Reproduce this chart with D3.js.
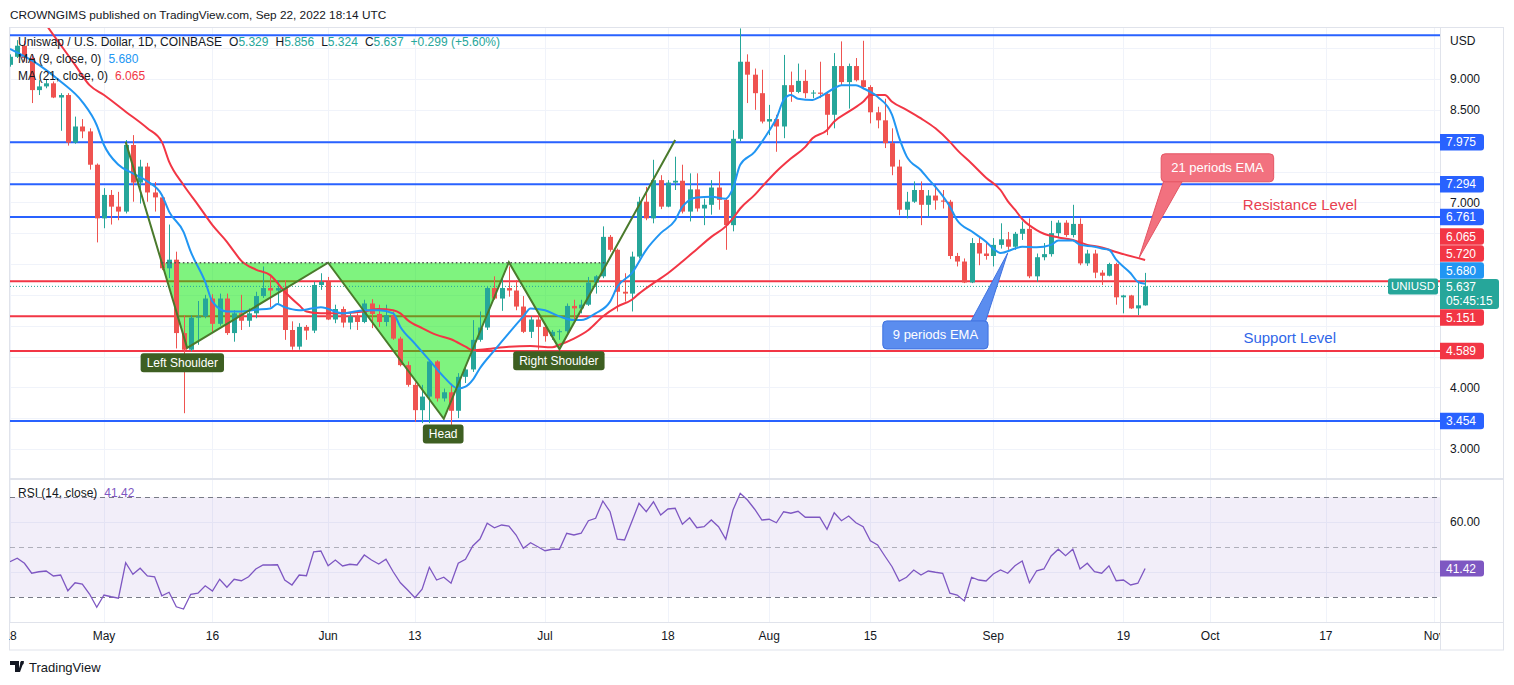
<!DOCTYPE html>
<html><head><meta charset="utf-8">
<script src="https://cdn.jsdelivr.net/npm/d3@7"></script>
<style>
html,body{margin:0;padding:0;background:#fff;}
svg{display:block;font-family:"Liberation Sans",Arial,sans-serif;}
text{white-space:pre;}
</style></head><body><svg id="c" width="1514" height="685"></svg>
<script>
// ---------- DATA ----------
const startDate = "2022-04-18";  // first daily candle
const opens  = [9.23,9.36,9.54,9.34,8.82,8.88,8.93,8.70,8.74,7.97,8.23,8.15,7.61,6.74,7.12,6.93,6.85,7.93,7.32,7.58,7.16,7.08,5.93,6.07,4.88,4.61,5.13,5.15,5.44,5.03,5.44,4.88,5.20,5.08,5.20,5.48,5.61,5.57,5.61,4.93,4.66,4.98,4.92,5.66,5.71,5.10,5.27,5.05,5.15,5.06,5.36,5.19,5.06,5.17,4.79,4.36,4.04,3.63,3.85,4.42,3.82,3.92,3.62,4.17,4.29,4.77,4.97,5.61,5.44,5.61,5.57,5.31,4.90,5.10,4.98,4.83,4.90,4.91,5.32,5.28,5.34,5.70,5.80,6.44,6.23,5.55,5.52,6.12,7.01,6.74,7.36,6.93,7.32,7.35,6.85,7.21,6.90,6.96,7.24,7.04,6.63,8.03,9.28,9.07,8.77,8.31,8.35,8.23,8.90,8.79,8.97,8.77,8.78,8.76,8.42,9.21,8.95,9.21,8.98,8.87,8.46,8.33,7.96,7.58,6.88,7.01,7.20,6.96,7.11,7.03,7.01,6.13,6.04,5.70,6.34,6.17,6.13,6.31,6.40,6.28,6.49,6.57,5.80,6.11,6.16,6.50,6.67,6.47,6.65,6.01,6.17,5.86,5.81,6.00,5.46,5.49,5.28,5.329];
const highs  = [9.40,9.63,9.62,9.40,8.98,9.00,8.96,8.77,8.77,8.39,8.35,8.20,7.63,7.23,7.20,7.17,8.01,8.09,7.69,7.64,7.33,7.12,6.64,6.20,5.17,5.17,5.40,5.50,5.51,5.52,5.52,5.25,5.50,5.28,5.55,5.96,5.80,5.74,5.74,5.07,5.04,5.01,5.71,5.85,5.79,5.34,5.31,5.20,5.20,5.42,5.43,5.34,5.34,5.23,4.82,4.42,4.08,4.04,4.44,4.44,3.98,4.06,4.23,4.36,5.09,5.23,5.63,5.80,5.77,5.96,5.74,5.48,5.15,5.15,5.04,4.93,4.94,5.36,5.42,5.42,5.79,5.82,6.61,6.47,6.25,5.85,6.20,7.09,7.25,7.69,7.44,7.36,7.74,7.61,7.47,7.47,7.06,7.36,7.50,7.06,8.17,9.82,9.40,9.17,9.15,8.58,8.42,9.39,9.12,9.25,9.15,8.82,9.28,8.79,9.42,9.61,9.25,9.34,9.62,8.90,8.55,8.68,8.20,7.69,7.17,7.34,7.34,7.20,7.28,7.20,7.04,6.18,6.09,6.42,6.44,6.36,6.42,6.66,6.52,6.52,6.69,6.74,6.17,6.34,6.70,6.71,6.71,6.96,6.74,6.23,6.23,5.90,6.02,6.02,5.50,5.50,5.71,5.856];
const lows   = [9.20,9.34,9.28,8.61,8.74,8.85,8.69,8.16,7.92,7.95,8.04,7.53,6.35,6.58,6.64,6.71,6.82,7.01,6.98,7.01,6.85,5.90,5.77,4.63,3.58,4.58,4.69,5.12,4.90,5.00,4.85,4.74,4.93,4.98,5.12,5.45,5.30,5.36,4.77,4.61,4.61,4.77,4.88,5.58,5.09,5.04,4.97,4.94,4.93,5.04,4.96,4.98,4.99,4.77,4.34,4.01,3.44,3.42,3.42,3.77,3.77,3.36,3.50,4.07,4.25,4.74,4.93,5.42,5.24,5.47,5.25,4.88,4.80,4.61,4.74,4.77,4.77,4.88,5.09,5.20,5.32,5.52,5.77,6.20,5.23,5.39,5.23,6.09,6.71,6.66,6.89,6.92,7.20,6.82,6.69,6.85,6.63,6.80,6.88,6.23,6.53,7.99,8.61,8.50,8.28,8.09,7.82,8.04,8.63,8.77,8.69,8.69,8.69,8.09,8.20,8.90,8.52,8.96,8.85,8.28,8.20,7.88,7.44,6.79,6.74,6.99,6.63,6.77,6.88,6.90,6.08,5.96,5.69,5.69,5.98,6.07,5.96,6.25,6.23,6.23,6.39,5.77,5.71,6.06,6.12,6.44,6.44,6.43,5.98,5.97,5.77,5.66,5.80,5.34,5.20,5.27,5.17,5.324];
const closes = [9.36,9.54,9.34,8.82,8.88,8.93,8.70,8.74,7.97,8.23,8.15,7.61,6.74,7.12,6.93,6.85,7.93,7.32,7.58,7.16,7.08,5.93,6.07,4.88,4.61,5.13,5.15,5.44,5.03,5.44,4.88,5.20,5.08,5.20,5.48,5.61,5.57,5.61,4.93,4.66,4.98,4.92,5.66,5.71,5.10,5.27,5.05,5.15,5.06,5.36,5.19,5.06,5.17,4.79,4.36,4.04,3.63,3.85,4.42,3.82,3.92,3.62,4.17,4.29,4.77,4.97,5.61,5.44,5.61,5.57,5.31,4.90,5.10,4.98,4.83,4.90,4.91,5.32,5.28,5.34,5.70,5.80,6.44,6.23,5.55,5.52,6.12,7.01,6.74,7.36,6.93,7.32,7.35,6.85,7.21,6.90,6.96,7.24,7.04,6.63,8.03,9.28,9.07,8.77,8.31,8.35,8.23,8.90,8.79,8.97,8.77,8.78,8.76,8.42,9.21,8.95,9.21,8.98,8.87,8.46,8.33,7.96,7.58,6.88,7.01,7.20,6.96,7.11,7.03,7.01,6.13,6.04,5.70,6.34,6.17,6.13,6.31,6.40,6.28,6.49,6.57,5.80,6.11,6.16,6.50,6.67,6.47,6.65,6.01,6.17,5.86,5.81,6.00,5.46,5.49,5.28,5.33,5.637];
const rsiValues = [44.1,45.5,43.5,39.5,40.1,40.4,38.4,38.8,32.5,35.7,35.2,31.2,25.9,30.8,30.1,29.5,43.7,39.1,41.5,38.4,38.1,30.5,31.9,26.1,25.2,31.1,31.5,34.5,32.4,37.1,33.9,37.1,36.5,38.1,41.2,42.8,42.8,42.9,36.8,34.8,38.8,38.5,48.1,48.4,42.5,44.8,42.4,43.1,42.8,46.8,44.8,43.2,45.1,40.1,35.7,32.8,29.7,33.1,41.9,36.8,37.9,35.5,43.5,45.1,50.4,53.2,59.5,57.7,58.8,58.4,54.8,49.5,51.7,50.1,48.5,49.1,49.1,55.5,54.8,55.5,60.5,61.5,68.4,64.1,53.1,52.8,60.1,67.5,64.1,68.1,62.8,65.2,65.5,59.1,61.7,57.7,58.1,60.8,58.1,53.1,64.8,71.5,68.8,65.1,60.8,61.1,59.7,64.1,63.5,64.3,61.9,61.9,61.9,57.1,63.7,60.5,62.4,59.7,58.1,52.5,50.8,46.4,42.1,36.4,37.9,40.8,38.8,40.4,39.9,39.5,31.5,30.8,28.4,37.9,36.8,36.4,39.2,40.8,39.5,42.5,44.4,35.7,40.5,41.2,46.4,49.1,46.5,49.1,41.2,43.5,40.1,39.5,42.5,36.5,36.8,34.8,35.5,41.42];
const ma9Points = [["2022-04-18",9.49],["2022-04-22",9.23],["2022-04-25",8.96],["2022-04-28",8.63],["2022-04-30",8.25],["2022-05-01",7.93],["2022-05-03",7.61],["2022-05-05",7.47],["2022-05-07",7.34],["2022-05-09",7.12],["2022-05-10",6.85],["2022-05-12",6.52],["2022-05-13",6.20],["2022-05-15",5.71],["2022-05-16",5.39],["2022-05-18",5.23],["2022-05-20",5.23],["2022-05-22",5.26],["2022-05-24",5.28],["2022-05-25",5.35],["2022-05-26",5.30],["2022-05-28",5.25],["2022-05-31",5.30],["2022-06-03",5.20],["2022-06-06",5.25],["2022-06-08",5.25],["2022-06-10",5.20],["2022-06-11",4.98],["2022-06-13",4.71],["2022-06-15",4.44],["2022-06-17",4.17],["2022-06-19",3.98],["2022-06-20",4.01],["2022-06-21",4.12],["2022-06-22",4.31],["2022-06-24",4.60],["2022-06-26",4.88],["2022-06-28",5.15],["2022-06-29",5.28],["2022-07-01",5.25],["2022-07-03",5.15],["2022-07-05",5.09],["2022-07-06",5.09],["2022-07-08",5.20],["2022-07-10",5.39],["2022-07-11",5.63],["2022-07-13",5.85],["2022-07-15",6.23],["2022-07-17",6.50],["2022-07-19",6.71],["2022-07-20",6.93],["2022-07-22",7.08],["2022-07-24",7.09],["2022-07-26",7.06],["2022-07-27",7.23],["2022-07-28",7.61],["2022-07-30",7.82],["2022-07-31",7.98],["2022-08-01",8.16],["2022-08-02",8.36],["2022-08-03",8.66],["2022-08-04",8.74],["2022-08-05",8.68],["2022-08-07",8.66],["2022-08-08",8.71],["2022-08-10",8.85],["2022-08-11",8.90],["2022-08-13",8.90],["2022-08-14",8.85],["2022-08-16",8.71],["2022-08-18",8.42],["2022-08-19",8.04],["2022-08-20",7.75],["2022-08-22",7.52],["2022-08-23",7.38],["2022-08-24",7.25],["2022-08-26",6.93],["2022-08-27",6.71],["2022-08-29",6.53],["2022-08-31",6.36],["2022-09-01",6.25],["2022-09-02",6.18],["2022-09-04",6.25],["2022-09-05",6.28],["2022-09-07",6.27],["2022-09-09",6.31],["2022-09-10",6.38],["2022-09-12",6.38],["2022-09-13",6.31],["2022-09-15",6.28],["2022-09-16",6.25],["2022-09-17",6.23],["2022-09-18",6.07],["2022-09-20",5.85],["2022-09-21",5.71],["2022-09-22",5.68]];
const ma21Points = [["2022-04-18",10.75],["2022-04-23",9.88],["2022-04-27",9.23],["2022-04-29",8.90],["2022-05-01",8.74],["2022-05-04",8.47],["2022-05-07",8.20],["2022-05-09",7.98],["2022-05-10",7.66],["2022-05-12",7.28],["2022-05-14",6.96],["2022-05-16",6.63],["2022-05-18",6.36],["2022-05-19",6.20],["2022-05-20",6.05],["2022-05-22",5.91],["2022-05-24",5.82],["2022-05-26",5.55],["2022-05-28",5.33],["2022-05-29",5.23],["2022-05-31",5.20],["2022-06-02",5.20],["2022-06-04",5.21],["2022-06-06",5.23],["2022-06-08",5.27],["2022-06-10",5.25],["2022-06-11",5.20],["2022-06-12",5.09],["2022-06-14",4.96],["2022-06-16",4.85],["2022-06-18",4.78],["2022-06-20",4.66],["2022-06-21",4.60],["2022-06-23",4.62],["2022-06-26",4.66],["2022-06-29",4.67],["2022-07-02",4.65],["2022-07-03",4.69],["2022-07-05",4.79],["2022-07-07",4.93],["2022-07-09",5.15],["2022-07-11",5.31],["2022-07-13",5.42],["2022-07-14",5.52],["2022-07-16",5.69],["2022-07-18",5.85],["2022-07-20",6.04],["2022-07-22",6.24],["2022-07-24",6.44],["2022-07-26",6.61],["2022-07-27",6.74],["2022-07-28",6.90],["2022-07-30",7.12],["2022-07-31",7.25],["2022-08-02",7.50],["2022-08-04",7.71],["2022-08-06",7.90],["2022-08-07",8.04],["2022-08-09",8.17],["2022-08-10",8.31],["2022-08-12",8.47],["2022-08-14",8.63],["2022-08-15",8.74],["2022-08-17",8.74],["2022-08-18",8.63],["2022-08-20",8.50],["2022-08-22",8.36],["2022-08-24",8.20],["2022-08-26",7.98],["2022-08-27",7.85],["2022-08-29",7.63],["2022-08-31",7.40],["2022-09-02",7.20],["2022-09-03",7.02],["2022-09-04",6.88],["2022-09-05",6.73],["2022-09-07",6.55],["2022-09-08",6.49],["2022-09-10",6.43],["2022-09-12",6.39],["2022-09-14",6.31],["2022-09-16",6.27],["2022-09-17",6.23],["2022-09-19",6.16],["2022-09-22",6.065]];
const priceTicks = [3.0,3.5,4.0,4.5,5.0,5.5,6.0,6.5,7.0,7.5,8.0,8.5,9.0,9.5];
const rsiTicks = [40,60];
const dateTicks = ["2022-04-18","2022-05-01","2022-05-16","2022-06-01","2022-06-13","2022-07-01","2022-07-18","2022-08-01","2022-08-15","2022-09-01","2022-09-19","2022-10-01","2022-10-17","2022-11-01"];
const dateTickLabels = ["18","May","16","Jun","13","Jul","18","Aug","15","Sep","19","Oct","17","Nov"];
const blueLevels = [9.71,7.975,7.294,6.761,3.454];
const redLevels = [5.720,5.151,4.589];
const lastPrice = 5.637, ma9Last = 5.680, ma21Last = 6.065, rsiLast = 41.42;
const necklinePrice = 6.02;
const patternOutline = [["2022-05-04",7.98],["2022-05-09",6.02],["2022-05-12T12:00",4.64],["2022-06-01",6.02],["2022-06-17",3.49],["2022-06-26",6.03],["2022-07-03",4.62],["2022-07-19",8.01]];
const patternFill = [["2022-05-09",6.02],["2022-05-12T12:00",4.64],["2022-06-01",6.02],["2022-06-17",3.49],["2022-06-26",6.03],["2022-07-03",4.62],["2022-07-09T12:00",6.02]];
const patternLabels = [["Left Shoulder","2022-05-11T20:00",4.40],["Head","2022-06-16T22:00",3.245],["Right Shoulder","2022-07-02T22:00",4.43]];
const callouts = [
  {text:"21 periods EMA", date:"2022-10-02", price:7.56, tipDate:"2022-09-21T04:00", tipPrice:6.10, fill:"#f2717f", stroke:"#e45563", side:"bl"},
  {text:"9 periods EMA", date:"2022-08-24", price:4.85, tipDate:"2022-09-03", tipPrice:6.18, fill:"#5b8def", stroke:"#3f72e0", side:"tr"}
];
const levelTexts = [["Resistance Level","2022-10-13T10:00",6.957,"#e8404f"],["Support Level","2022-10-12",4.80,"#2f66e8"]];

// ---------- LAYOUT ----------
const L = 10, R = 1440, PT = 28, PB = 478, RT = 480, RB = 622, AB = 650;
const COL_UP = "#26a69a", COL_DN = "#ef5350", BLUE = "#2962ff", RED = "#f23645";
const FS = 12;
const pd = s => new Date(s.length === 10 ? s + "T00:00:00Z" : s + ":00Z");
const day0 = pd(startDate);
const dayOf = i => new Date(day0.getTime() + i * 86400000);

const x = d3.scaleUtc().domain([pd("2022-04-18"), pd("2022-11-01")]).range([L, L + 197 * 7.23]);
const y = d3.scaleLinear().domain([3, 9]).range([449, 79]);
const yr = d3.scaleLinear().domain([30, 70]).range([597, 497]);

const svg = d3.select("#c");
const defs = svg.append("defs");
defs.append("clipPath").attr("id", "cp").append("rect").attr("x", L).attr("y", PT).attr("width", R - L).attr("height", PB - PT);
defs.append("clipPath").attr("id", "cr").append("rect").attr("x", L).attr("y", RT).attr("width", R - L).attr("height", RB - RT);
defs.append("clipPath").attr("id", "ct").append("rect").attr("x", 9).attr("y", RB).attr("width", R - 9).attr("height", AB - RB);

// header
svg.append("text").attr("x", 10).attr("y", 19).attr("font-size", 11.8).attr("fill", "#131722")
  .text("CROWNGIMS published on TradingView.com, Sep 22, 2022 18:14 UTC");

// frame
svg.append("rect").attr("x", 9.5).attr("y", 27.5).attr("width", 1494).attr("height", AB - 27.5).attr("fill", "none").attr("stroke", "#e0e3eb");

// gridlines
const grid = svg.append("g").attr("stroke", "#f0f3fa").attr("stroke-width", 1);
dateTicks.forEach(d => {
  const xx = Math.round(x(pd(d))) + 0.5;
  grid.append("line").attr("x1", xx).attr("x2", xx).attr("y1", PT).attr("y2", RB);
});
priceTicks.forEach(v => {
  const yy = Math.round(y(v)) + 0.5;
  grid.append("line").attr("x1", L).attr("x2", R).attr("y1", yy).attr("y2", yy);
});
rsiTicks.forEach(v => {
  const yy = Math.round(yr(v)) + 0.5;
  grid.append("line").attr("x1", L).attr("x2", R).attr("y1", yy).attr("y2", yy);
});

// ---------- PRICE PANE ----------
const pane = svg.append("g").attr("clip-path", "url(#cp)");
blueLevels.forEach(v => pane.append("line").attr("x1", L).attr("x2", R).attr("y1", y(v)).attr("y2", y(v)).attr("stroke", BLUE).attr("stroke-width", 2));
redLevels.forEach(v => pane.append("line").attr("x1", L).attr("x2", R).attr("y1", y(v)).attr("y2", y(v)).attr("stroke", RED).attr("stroke-width", 2));

const pt = p => [x(pd(p[0])), y(p[1])];
pane.append("path").attr("d", d3.line()(patternFill.map(pt)) + "Z").attr("fill", "rgba(0,232,0,0.5)");

pane.append("line").attr("x1", L).attr("x2", R).attr("y1", y(lastPrice)).attr("y2", y(lastPrice))
  .attr("stroke", COL_UP).attr("stroke-width", 1).attr("stroke-dasharray", "1,2");

// candles
const candles = pane.append("g");
closes.forEach((c, i) => {
  const o = opens[i], h = highs[i], l = lows[i];
  const cx = Math.round(x(dayOf(i)));
  const col = c >= o ? COL_UP : COL_DN;
  candles.append("line").attr("x1", cx + 0.5).attr("x2", cx + 0.5).attr("y1", y(h)).attr("y2", y(l)).attr("stroke", col).attr("stroke-width", 1);
  const top = y(Math.max(o, c)), bot = y(Math.min(o, c));
  candles.append("rect").attr("x", cx - 2).attr("width", 5).attr("y", top).attr("height", Math.max(1, bot - top)).attr("fill", col);
});

// MA lines
const lineGen = d3.line().x(p => x(pd(p[0]))).y(p => y(p[1])).curve(d3.curveMonotoneX);
pane.append("path").attr("d", lineGen(ma21Points)).attr("fill", "none").attr("stroke", RED).attr("stroke-width", 2);
pane.append("path").attr("d", lineGen(ma9Points)).attr("fill", "none").attr("stroke", "#2196f3").attr("stroke-width", 2);

// pattern outline + neckline
pane.append("path").attr("d", d3.line()(patternOutline.map(pt))).attr("fill", "none").attr("stroke", "#4a7a2c").attr("stroke-width", 2);
pane.append("line").attr("x1", x(pd(patternFill[0][0]))).attr("x2", x(pd(patternFill[patternFill.length - 1][0])))
  .attr("y1", y(necklinePrice)).attr("y2", y(necklinePrice))
  .attr("stroke", "#555").attr("stroke-width", 1.6).attr("stroke-dasharray", "1.6,2.6");

// pattern labels
patternLabels.forEach(([t, d, v]) => {
  const g = pane.append("g").attr("transform", `translate(${x(pd(d))},${y(v)})`);
  const tx = g.append("text").attr("text-anchor", "middle").attr("dy", "0.35em").attr("font-size", 12).attr("fill", "#fff").text(t);
  const w = tx.node().getComputedTextLength() + 12;
  g.insert("rect", "text").attr("x", -w / 2).attr("y", -9.5).attr("width", w).attr("height", 19).attr("rx", 3).attr("fill", "#3e5f22");
});

// callouts
callouts.forEach(c => {
  const cx = x(pd(c.date)), cy = y(c.price);
  const g = pane.append("g");
  const tx = g.append("text").attr("x", cx).attr("y", cy).attr("text-anchor", "middle").attr("dy", "0.35em").attr("font-size", 13).attr("fill", "#fff").text(c.text);
  const w = tx.node().getComputedTextLength() + 20, h = 28;
  const x0 = cx - w / 2, y0 = cy - h / 2;
  const tip = [x(pd(c.tipDate)), y(c.tipPrice)];
  let poly;
  if (c.side === "bl") poly = [[x0 + 3, y0 + h - 2], [x0 + 22, y0 + h - 2], tip];
  else poly = [[x0 + w - 18, y0 + 2], [x0 + w - 3, y0 + 2], tip];
  g.insert("path", "text").attr("d", d3.line()(poly) + "Z").attr("fill", c.fill).attr("stroke", c.stroke).attr("stroke-width", 1);
  g.insert("rect", "text").attr("x", x0).attr("y", y0).attr("width", w).attr("height", h).attr("rx", 4).attr("fill", c.fill).attr("stroke", c.stroke).attr("stroke-width", 1);
});

levelTexts.forEach(([t, d, v, col]) => {
  pane.append("text").attr("x", x(pd(d))).attr("y", y(v)).attr("dy", "0.35em").attr("text-anchor", "middle").attr("font-size", 15).attr("fill", col).text(t);
});

// legend
const lg = svg.append("g").attr("font-size", FS).attr("fill", "#131722");
const l1 = lg.append("text").attr("x", 18).attr("y", 46);
l1.append("tspan").text("Uniswap / U.S. Dollar, 1D, COINBASE");
[["O", "5.329"], ["H", "5.856"], ["L", "5.324"], ["C", "5.637"]].forEach(([k, v]) => {
  l1.append("tspan").attr("dx", 7).text(k);
  l1.append("tspan").attr("fill", COL_UP).text(v);
});
l1.append("tspan").attr("dx", 7).attr("fill", COL_UP).text("+0.299 (+5.60%)");
const l2 = lg.append("text").attr("x", 18).attr("y", 63);
l2.append("tspan").text("MA (9, close, 0)");
l2.append("tspan").attr("dx", 7).attr("fill", "#2196f3").text(ma9Last.toFixed(3));
const l3 = lg.append("text").attr("x", 18).attr("y", 80);
l3.append("tspan").text("MA (21, close, 0)");
l3.append("tspan").attr("dx", 7).attr("fill", RED).text(ma21Last.toFixed(3));

// ---------- RSI PANE ----------
svg.append("line").attr("x1", L).attr("x2", 1504).attr("y1", 479).attr("y2", 479).attr("stroke", "#e0e3eb").attr("stroke-width", 2);
const rp = svg.append("g").attr("clip-path", "url(#cr)");
rp.append("rect").attr("x", L).attr("width", R - L).attr("y", yr(70)).attr("height", yr(30) - yr(70)).attr("fill", "rgba(126,87,194,0.1)");
[70, 50, 30].forEach(v => rp.append("line").attr("x1", L).attr("x2", R).attr("y1", Math.round(yr(v)) + 0.5).attr("y2", Math.round(yr(v)) + 0.5)
  .attr("stroke", v === 50 ? "rgba(120,123,134,0.55)" : "#787b86").attr("stroke-dasharray", "5,4").attr("stroke-width", 1));
rp.append("path").attr("d", d3.line().x((v, i) => x(dayOf(i))).y(v => yr(v))(rsiValues))
  .attr("fill", "none").attr("stroke", "#7e57c2").attr("stroke-width", 1.3);
const rl = svg.append("text").attr("x", 18).attr("y", 497).attr("font-size", FS).attr("fill", "#131722");
rl.append("tspan").text("RSI (14, close)");
rl.append("tspan").attr("dx", 7).attr("fill", "#7e57c2").text(rsiLast.toFixed(2));

// ---------- TIME AXIS ----------
svg.append("line").attr("x1", L).attr("x2", 1504).attr("y1", RB + 0.5).attr("y2", RB + 0.5).attr("stroke", "#e0e3eb");
const ta = svg.append("g").attr("clip-path", "url(#ct)");
dateTicks.forEach((d, i) => ta.append("text").attr("x", x(pd(d))).attr("y", 640).attr("text-anchor", "middle")
  .attr("font-size", FS).attr("fill", "#131722").text(dateTickLabels[i]));

// ---------- RIGHT AXIS ----------
svg.append("line").attr("x1", R + 0.5).attr("x2", R + 0.5).attr("y1", PT).attr("y2", AB).attr("stroke", "#e0e3eb");

function axisLabel(cy, col, w, h) {
  const g = svg.append("g");
  g.append("path").attr("d", `M${R},${cy - h / 2}h${w - 3}q3,0 3,3v${h - 6}q0,3 -3,3h${-(w - 3)}Z`).attr("fill", col);
  return g;
}
const yLast = y(lastPrice);
const aTop = yLast - 7.5, aBot = yLast + 22.5;
const labels = [
  ...blueLevels.filter(v => v < 9.5).map(v => ({v, col: BLUE})),
  ...redLevels.map(v => ({v, col: RED})),
  {v: ma9Last, col: "#2196f3"}, {v: ma21Last, col: RED}
];
const LH = 17;
const above = labels.filter(l => l.v > lastPrice).sort((a, b) => a.v - b.v);
let prevTop = aTop;
above.forEach(l => { l.cy = Math.min(y(l.v), prevTop - LH / 2); prevTop = l.cy - LH / 2; });
const below = labels.filter(l => l.v < lastPrice).sort((a, b) => b.v - a.v);
let prevBot = aBot;
below.forEach(l => { l.cy = Math.max(y(l.v), prevBot + LH / 2); prevBot = l.cy + LH / 2; });

// occupied vertical bands on the price scale (labels + USD caption)
const occupied = [[PT, 47], [aTop, aBot], ...labels.map(l => [l.cy - LH / 2, l.cy + LH / 2])];
const ra = svg.append("g").attr("font-size", FS).attr("fill", "#131722");
priceTicks.forEach(v => {
  const ty = y(v);
  if (occupied.some(([a, b]) => ty + 6 > a && ty - 6 < b)) return;
  ra.append("text").attr("x", 1450).attr("y", ty).attr("dy", "0.35em").text(v.toFixed(3));
});
svg.append("text").attr("x", 1450).attr("y", 41).attr("dy", "0.35em").attr("font-size", FS).attr("fill", "#131722").text("USD");
rsiTicks.forEach(v => {
  if (Math.abs(yr(v) - yr(rsiLast)) < 14) return;
  ra.append("text").attr("x", 1450).attr("y", yr(v)).attr("dy", "0.35em").text(v.toFixed(2));
});

const ga = axisLabel((aTop + aBot) / 2, COL_UP, 59, aBot - aTop);
ga.append("text").attr("x", 1446).attr("y", yLast).attr("dy", "0.35em").attr("font-size", FS).attr("fill", "#fff").text(lastPrice.toFixed(3));
ga.append("text").attr("x", 1446).attr("y", yLast + 14.5).attr("dy", "0.35em").attr("font-size", FS).attr("fill", "#fff").text("05:45:15");
const tg = svg.append("g");
tg.append("rect").attr("x", 1388).attr("y", yLast - 8).attr("width", 50).attr("height", 16).attr("rx", 2).attr("fill", COL_UP);
tg.append("text").attr("x", 1413).attr("y", yLast).attr("dy", "0.35em").attr("text-anchor", "middle").attr("font-size", 11.5).attr("fill", "#fff").text("UNIUSD");

labels.forEach(l => {
  const g = axisLabel(l.cy, l.col, 44, LH - 0.5);
  g.append("text").attr("x", 1446).attr("y", l.cy).attr("dy", "0.35em").attr("font-size", FS).attr("fill", "#fff").text(l.v.toFixed(3));
});
const gr = axisLabel(yr(rsiLast), "#7e57c2", 44, 16);
gr.append("text").attr("x", 1446).attr("y", yr(rsiLast)).attr("dy", "0.35em").attr("font-size", FS).attr("fill", "#fff").text(rsiLast.toFixed(2));

// footer logo
const fg = svg.append("g").attr("fill", "#131722");
fg.append("path").attr("d", "M10,661h9v11h-4v-7h-5z M21,661h3l-4,11h-2z");
fg.append("circle").attr("cx", 22).attr("cy", 663).attr("r", 1.8);
svg.append("text").attr("x", 29).attr("y", 672).attr("font-size", 13).attr("fill", "#131722").text("TradingView");
</script></body></html>
